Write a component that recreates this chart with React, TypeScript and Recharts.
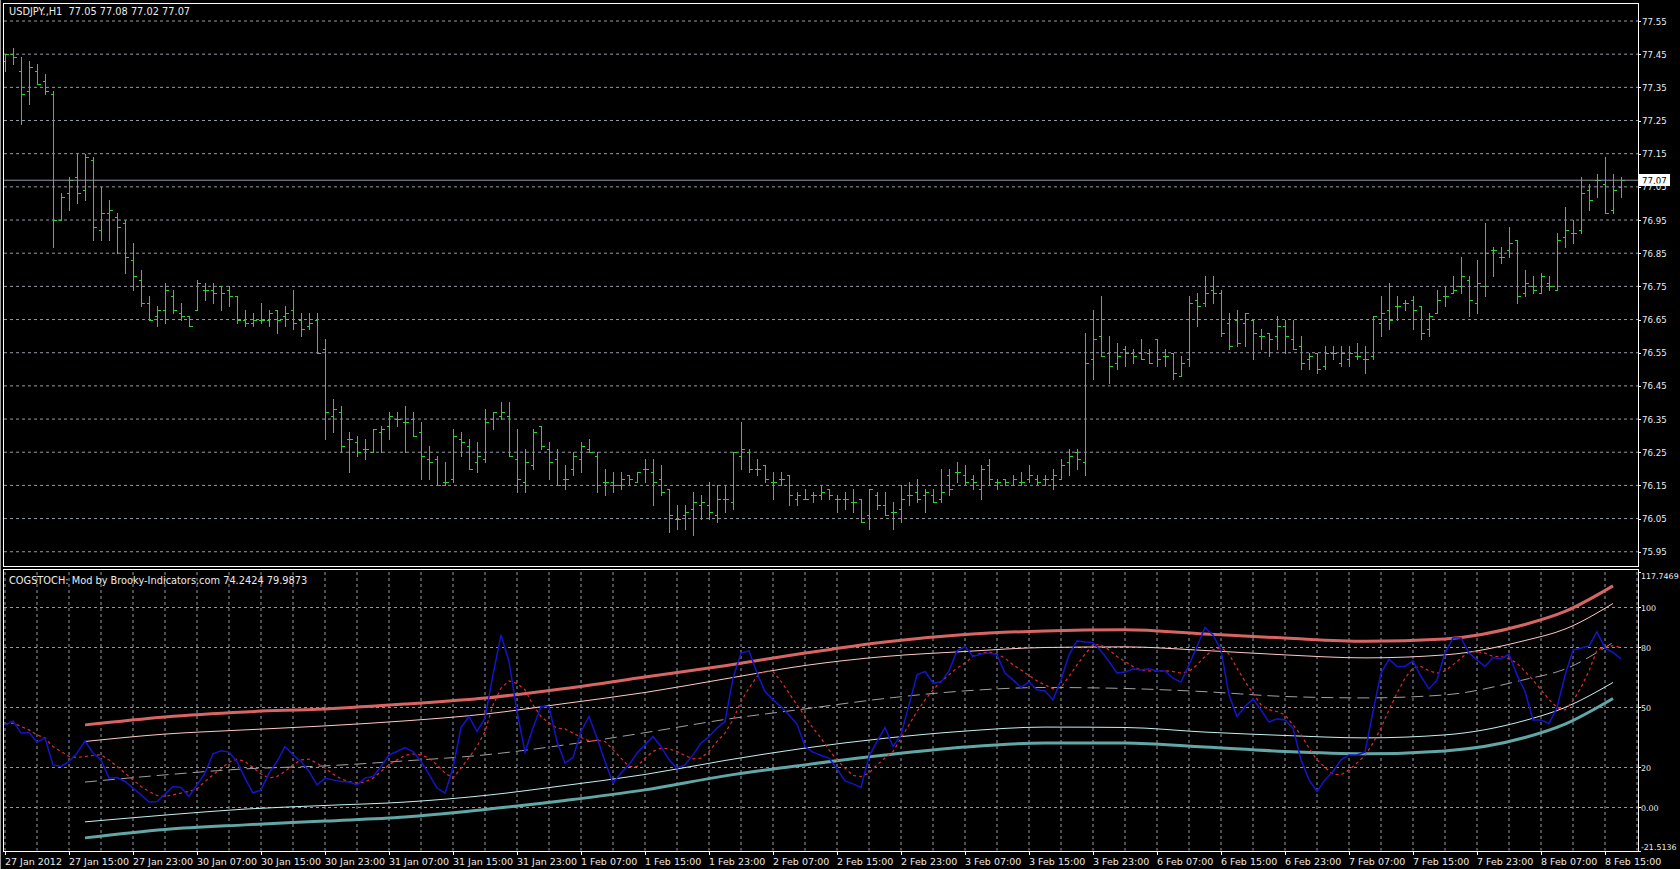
import { ComposedChart, Bar, Line, XAxis, YAxis, CartesianGrid, ReferenceLine } from 'recharts';

// USDJPY H1, bar 0 = 27 Jan 2012 07:00
const opens = [
  77.43, 77.45, 77.40, 77.34, 77.40, 77.37, 77.33, 76.95, 77.03, 77.08,
  77.04, 77.13, 76.92, 76.97, 76.96, 76.94, 76.83, 76.77, 76.70, 76.66,
  76.68, 76.72, 76.67, 76.66, 76.68, 76.74, 76.74, 76.75, 76.74, 76.72,
  76.65, 76.64, 76.65, 76.65, 76.68, 76.66, 76.68, 76.65, 76.63, 76.65,
  76.56, 76.36, 76.37, 76.29, 76.28, 76.26, 76.25, 76.31, 76.33, 76.35,
  76.34, 76.35, 76.31, 76.23, 76.23, 76.16, 76.17, 76.29, 76.27, 76.22,
  76.23, 76.35, 76.36, 76.36, 76.23, 76.16, 76.21, 76.33, 76.26, 76.23,
  76.17, 76.20, 76.23, 76.26, 76.24, 76.16, 76.16, 76.15, 76.18, 76.16,
  76.20, 76.19, 76.17, 76.14, 76.05, 76.06, 76.08, 76.09, 76.09, 76.06,
  76.11, 76.10, 76.24, 76.25, 76.20, 76.21, 76.16, 76.17, 76.18, 76.11,
  76.11, 76.12, 76.12, 76.14, 76.11, 76.11, 76.10, 76.11, 76.06, 76.12,
  76.09, 76.07, 76.08, 76.12, 76.13, 76.12, 76.12, 76.11, 76.18, 76.19,
  76.18, 76.17, 76.14, 76.21, 76.16, 76.17, 76.15, 76.16, 76.17, 76.17,
  76.17, 76.17, 76.17, 76.22, 76.25, 76.22, 76.53, 76.60, 76.55, 76.52,
  76.56, 76.55, 76.55, 76.55, 76.59, 76.54, 76.55, 76.48, 76.53, 76.71,
  76.70, 76.74, 76.73, 76.64, 76.65, 76.64, 76.65, 76.60, 76.61, 76.60,
  76.63, 76.59, 76.57, 76.53, 76.55, 76.51, 76.55, 76.52, 76.53, 76.54,
  76.53, 76.54, 76.64, 76.68, 76.69, 76.70, 76.71, 76.69, 76.62, 76.67,
  76.72, 76.73, 76.75, 76.77, 76.70, 76.75, 76.86, 76.84, 76.86, 76.89,
  76.73, 76.75, 76.73, 76.76, 76.74, 76.90, 76.91, 76.92, 77.04, 77.07,
  77.06, 76.98, 77.05,
];
const highs = [
  77.45, 77.47, 77.44, 77.43, 77.42, 77.39, 77.34, 77.03, 77.08, 77.15,
  77.15, 77.14, 77.05, 77.01, 76.97, 76.95, 76.88, 76.80, 76.72, 76.69,
  76.76, 76.74, 76.70, 76.66, 76.77, 76.76, 76.76, 76.75, 76.75, 76.72,
  76.68, 76.67, 76.70, 76.68, 76.68, 76.69, 76.74, 76.67, 76.67, 76.67,
  76.59, 76.41, 76.39, 76.31, 76.30, 76.29, 76.32, 76.33, 76.37, 76.37,
  76.39, 76.37, 76.34, 76.27, 76.24, 76.22, 76.32, 76.31, 76.29, 76.28,
  76.38, 76.37, 76.40, 76.40, 76.32, 76.26, 76.32, 76.33, 76.28, 76.26,
  76.21, 76.25, 76.28, 76.29, 76.25, 76.20, 76.19, 76.19, 76.18, 76.19,
  76.23, 76.23, 76.21, 76.14, 76.09, 76.09, 76.13, 76.12, 76.16, 76.15,
  76.15, 76.25, 76.34, 76.26, 76.23, 76.21, 76.19, 76.19, 76.18, 76.13,
  76.14, 76.13, 76.15, 76.14, 76.12, 76.13, 76.14, 76.11, 76.14, 76.13,
  76.13, 76.10, 76.15, 76.16, 76.17, 76.14, 76.14, 76.20, 76.20, 76.22,
  76.21, 76.18, 76.21, 76.23, 76.17, 76.17, 76.18, 76.19, 76.21, 76.18,
  76.18, 76.20, 76.23, 76.26, 76.26, 76.61, 76.68, 76.72, 76.60, 76.58,
  76.57, 76.56, 76.59, 76.56, 76.59, 76.56, 76.55, 76.54, 76.72, 76.73,
  76.78, 76.78, 76.74, 76.67, 76.68, 76.67, 76.65, 76.62, 76.61, 76.66,
  76.65, 76.65, 76.60, 76.55, 76.55, 76.57, 76.57, 76.57, 76.57, 76.58,
  76.57, 76.66, 76.72, 76.76, 76.72, 76.71, 76.72, 76.69, 76.67, 76.74,
  76.75, 76.78, 76.84, 76.78, 76.83, 76.94, 76.87, 76.87, 76.93, 76.89,
  76.80, 76.78, 76.79, 76.78, 76.91, 76.99, 76.95, 77.08, 77.06, 77.09,
  77.14, 77.09, 77.08,
];
const lows = [
  77.40, 77.42, 77.24, 77.30, 77.36, 77.33, 76.87, 76.95, 76.98, 77.00,
  77.01, 76.89, 76.89, 76.89, 76.85, 76.79, 76.74, 76.69, 76.65, 76.63,
  76.64, 76.67, 76.65, 76.63, 76.68, 76.71, 76.70, 76.68, 76.69, 76.64,
  76.63, 76.63, 76.64, 76.63, 76.61, 76.63, 76.62, 76.60, 76.62, 76.55,
  76.29, 76.31, 76.25, 76.19, 76.24, 76.23, 76.25, 76.25, 76.29, 76.33,
  76.25, 76.30, 76.17, 76.17, 76.15, 76.15, 76.16, 76.24, 76.20, 76.19,
  76.22, 76.32, 76.35, 76.24, 76.13, 76.13, 76.20, 76.26, 76.17, 76.15,
  76.14, 76.18, 76.19, 76.25, 76.13, 76.12, 76.13, 76.14, 76.15, 76.16,
  76.16, 76.09, 76.12, 76.01, 76.02, 76.02, 76.00, 76.05, 76.05, 76.04,
  76.07, 76.08, 76.20, 76.19, 76.18, 76.16, 76.11, 76.15, 76.09, 76.09,
  76.11, 76.10, 76.11, 76.11, 76.07, 76.08, 76.07, 76.04, 76.02, 76.08,
  76.06, 76.02, 76.04, 76.09, 76.10, 76.07, 76.10, 76.10, 76.12, 76.16,
  76.15, 76.14, 76.11, 76.15, 76.14, 76.15, 76.15, 76.15, 76.16, 76.15,
  76.15, 76.14, 76.17, 76.18, 76.20, 76.18, 76.47, 76.54, 76.46, 76.50,
  76.51, 76.52, 76.53, 76.52, 76.51, 76.51, 76.47, 76.48, 76.51, 76.63,
  76.69, 76.70, 76.60, 76.56, 76.57, 76.57, 76.53, 76.56, 76.54, 76.56,
  76.55, 76.56, 76.50, 76.50, 76.49, 76.50, 76.53, 76.51, 76.51, 76.53,
  76.49, 76.53, 76.60, 76.62, 76.65, 76.68, 76.62, 76.59, 76.60, 76.67,
  76.69, 76.73, 76.73, 76.66, 76.67, 76.72, 76.78, 76.82, 76.84, 76.70,
  76.72, 76.73, 76.73, 76.74, 76.74, 76.87, 76.88, 76.91, 76.98, 77.02,
  76.97, 76.97, 77.02,
];
const closes = [
  77.45, 77.44, 77.33, 77.41, 77.36, 77.34, 76.95, 77.02, 77.07, 77.03,
  77.14, 76.93, 76.97, 76.98, 76.93, 76.84, 76.78, 76.70, 76.65, 76.68,
  76.74, 76.68, 76.66, 76.63, 76.76, 76.74, 76.73, 76.73, 76.72, 76.65,
  76.64, 76.65, 76.65, 76.67, 76.65, 76.67, 76.64, 76.62, 76.64, 76.55,
  76.37, 76.38, 76.27, 76.29, 76.25, 76.26, 76.32, 76.32, 76.36, 76.35,
  76.34, 76.30, 76.24, 76.22, 76.15, 76.16, 76.30, 76.28, 76.20, 76.24,
  76.34, 76.37, 76.37, 76.24, 76.17, 76.22, 76.31, 76.27, 76.22, 76.15,
  76.17, 76.24, 76.27, 76.25, 76.15, 76.16, 76.15, 76.17, 76.17, 76.19,
  76.20, 76.16, 76.13, 76.06, 76.05, 76.07, 76.10, 76.10, 76.07, 76.11,
  76.11, 76.25, 76.26, 76.20, 76.20, 76.17, 76.16, 76.17, 76.12, 76.12,
  76.11, 76.12, 76.13, 76.12, 76.11, 76.11, 76.10, 76.04, 76.14, 76.09,
  76.06, 76.07, 76.11, 76.12, 76.11, 76.13, 76.10, 76.13, 76.14, 76.19,
  76.16, 76.16, 76.20, 76.17, 76.16, 76.16, 76.17, 76.16, 76.18, 76.16,
  76.17, 76.18, 76.21, 76.24, 76.23, 76.52, 76.59, 76.54, 76.51, 76.54,
  76.55, 76.54, 76.53, 76.52, 76.53, 76.54, 76.49, 76.52, 76.70, 76.69,
  76.73, 76.73, 76.61, 76.57, 76.58, 76.67, 76.61, 76.60, 76.59, 76.63,
  76.60, 76.56, 76.52, 76.54, 76.50, 76.55, 76.55, 76.55, 76.55, 76.54,
  76.53, 76.66, 76.67, 76.65, 76.69, 76.70, 76.68, 76.61, 76.66, 76.71,
  76.72, 76.74, 76.78, 76.71, 76.76, 76.85, 76.86, 76.84, 76.88, 76.72,
  76.76, 76.74, 76.78, 76.75, 76.89, 76.92, 76.91, 77.03, 77.01, 77.07,
  76.97, 77.04, 77.07,
];

// COGSTOCH main (blue) and signal (red dotted)
const stoch = [
  41.3, 43.3, 37.2, 37.5, 32.7, 34.7, 21.3, 20.5, 23, 27.2,
  33.3, 27.2, 23.8, 14.7, 15, 13, 9.7, 6.3, 2.7, 3,
  6.7, 10.5, 10, 5.5, 11.3, 17.2, 26.8, 28.3, 27.7, 23,
  14.7, 7.2, 8.8, 17.2, 23, 30.5, 26.3, 23, 18, 11.3,
  14.7, 13.8, 13, 12.7, 11.3, 14.7, 15.5, 20.5, 26.3, 28,
  30, 28, 23, 16.7, 9.7, 7.2, 19.7, 40, 45.5, 38,
  44.7, 66.3, 86.3, 73, 48, 27.7, 39.7, 50.5, 50.5, 33,
  22.2, 25, 38, 45.5, 34.7, 23, 12.2, 17.2, 21.3, 27.2,
  31.3, 35.5, 30.5, 23.8, 19.7, 21.3, 26.3, 32.2, 35.5, 39.7,
  43, 64.7, 77.2, 78.3, 67.2, 58, 53.8, 50.5, 46.3, 41.7,
  30.5, 27.7, 26, 24.7, 19.3, 13.3, 11.8, 10, 25.5, 33,
  40, 30.5, 36.3, 51.3, 66.3, 68, 62.2, 62.7, 68.3, 78.3,
  80.5, 75.5, 76.7, 77.2, 76.3, 67.2, 63.8, 60, 62.7, 58.8,
  58.3, 53.8, 63.8, 76.3, 83.3, 82.7, 82.5, 78.3, 73, 67.2,
  67.7, 69.3, 68.8, 69.3, 68.3, 68.3, 64.7, 62.7, 71.3, 80.5,
  90, 86.3, 78.8, 56.3, 45.5, 50.5, 54.3, 48.8, 42.7, 44.3,
  43.8, 39.7, 23.8, 13.8, 8, 13.8, 18, 23.8, 26.3, 26.3,
  27.7, 48, 67.2, 74.2, 70.5, 70.5, 73.3, 65.5, 59.3, 63.8,
  77.2, 84.7, 84.7, 77.2, 73.8, 70.5, 75, 74.3, 76.7, 66.3,
  58, 43.8, 43.8, 42, 50, 66, 78.7, 79.7, 80.8, 87.8,
  79.7, 77.5, 74.2424,
];
const signal = [
  41.7, 42.2, 40.5, 38.8, 36.3, 34.7, 30.5, 28, 25.5, 25,
  25.5, 26, 26.3, 23.8, 20.5, 17.2, 13.8, 10.5, 8, 6,
  5.5, 6.3, 7.2, 8, 9.3, 13, 16.3, 19.3, 22.7, 24.2,
  23, 20, 16.7, 14.7, 15.5, 18, 21.3, 23.8, 24.2, 22.2,
  19.7, 16.7, 14.3, 13, 12.2, 12.7, 14.7, 18, 21.3, 23.8,
  26, 26.8, 26.3, 24.7, 21.3, 17.2, 14.7, 19.7, 25, 30.5,
  38, 51.3, 59.7, 63.3, 62, 58.8, 51.3, 45.5, 42.2, 39.7,
  39.3, 37.2, 35, 33.3, 33.5, 33, 28.8, 24.7, 20.5, 20.5,
  24.7, 28, 29.7, 29.3, 28, 26, 24.3, 24.7, 28, 33,
  37.2, 43.8, 53, 59.7, 65.5, 68.3, 68, 63, 57.2, 51.3,
  45.5, 39.7, 34.7, 28.8, 23.8, 19.7, 16, 15.5, 17.2, 21.3,
  24.7, 28, 34.7, 41.3, 48, 53.8, 58.8, 63, 66.3, 69.7,
  72.2, 75.5, 77.2, 77.7, 76.7, 74.7, 71.3, 68.8, 66, 63.3,
  61.3, 59.3, 60, 65.5, 71.3, 76.7, 81.3, 81.3, 78.8, 75.5,
  73, 70.5, 68.8, 68.3, 68.3, 68.3, 68, 67.2, 68, 71.3,
  75.5, 78.8, 80, 76.7, 69.7, 63, 57.2, 51.3, 48.8, 48,
  46.3, 41.3, 36.3, 29.7, 23.8, 20, 16.7, 16.3, 18.8, 22.2,
  26, 32.2, 39.7, 48.8, 57.2, 64.7, 69.7, 70.5, 68.3, 67.2,
  68.3, 71.3, 74.7, 77.7, 78, 77.2, 75.5, 75.5, 74.3, 72.2,
  68, 63.8, 58.8, 54, 50, 48.7, 53.3, 60, 68.3, 78.7,
  80.3, 80.8, 79.9873,
];

// band lines, read at these bar indexes
const bandAt = [10, 20, 30, 40, 50, 60, 70, 80, 90, 100, 110, 120, 130, 140, 150, 160, 170, 180, 190, 195, 201];
const upperOuter = [41.3, 45.3, 47.8, 49.3, 51.7, 54.7, 59.5, 65.2, 70.9, 77.2, 82.8, 86.5, 88.3, 88.9, 86.8, 84.7, 83.1, 84.3, 91.5, 98, 110.8];
const upperInner = [33, 36.7, 38.8, 40.8, 43.3, 46.7, 52, 57.5, 64.3, 71, 75.5, 78, 80, 80.3, 78.5, 76.3, 74.8, 76.3, 83.5, 89.2, 102];
const middle = [12.7, 16.3, 19.3, 20.8, 23.3, 26.3, 31.3, 37.4, 44, 49.3, 54.5, 58.3, 60, 59.5, 57.9, 55.5, 54.8, 56.3, 64, 69.2, 82.5];
const lowerInner = [-7.2, -3.8, -0.8, 1, 2.7, 6, 11, 16.5, 23.5, 29.7, 34.6, 38.2, 40.2, 40, 37.7, 36, 34.8, 36.3, 43.5, 50, 62.5];
const lowerOuter = [-15.2, -11, -8.7, -6.8, -4.8, -1, 3.5, 8.8, 15.8, 21.3, 26.2, 30.2, 32.3, 32.2, 30.2, 28, 26.9, 28.3, 35, 41.7, 54.5];

const timeTicks = [0, 8, 16, 24, 32, 40, 48, 56, 64, 72, 80, 88, 96, 104, 112, 120, 128, 136, 144, 152, 160, 168, 176, 184, 192, 200];
const timeLabels = [
  '27 Jan 2012', '27 Jan 15:00', '27 Jan 23:00', '30 Jan 07:00', '30 Jan 15:00', '30 Jan 23:00',
  '31 Jan 07:00', '31 Jan 15:00', '31 Jan 23:00', '1 Feb 07:00', '1 Feb 15:00', '1 Feb 23:00',
  '2 Feb 07:00', '2 Feb 15:00', '2 Feb 23:00', '3 Feb 07:00', '3 Feb 15:00', '3 Feb 23:00',
  '6 Feb 07:00', '6 Feb 15:00', '6 Feb 23:00', '7 Feb 07:00', '7 Feb 15:00', '7 Feb 23:00',
  '8 Feb 07:00', '8 Feb 15:00',
];
const gridX = timeTicks.flatMap((t) => [t, t + 4]).filter((t) => t <= 204);
const priceTicks = [75.95, 76.05, 76.15, 76.25, 76.35, 76.45, 76.55, 76.65, 76.75, 76.85, 76.95, 77.05, 77.15, 77.25, 77.35, 77.45, 77.55];
const indTicks = [-21.5136, 0, 20, 50, 80, 100, 117.7469];
const indLabels = ['-21.5136', '0.00', '20', '50', '80', '100', '117.7469'];
const indGrid = [0, 20, 50, 80, 100];

const rows: any[] = opens.map((o, i) => ({
  i, o, h: highs[i], l: lows[i], c: closes[i],
  hl: [lows[i], highs[i]],
  stoch: stoch[i], signal: signal[i],
}));
bandAt.forEach((b, k) => {
  Object.assign(rows[b], {
    upOuter: upperOuter[k], upInner: upperInner[k], mid: middle[k],
    loInner: lowerInner[k], loOuter: lowerOuter[k],
  });
});

const FONT = "'DejaVu Sans', Tahoma, sans-serif";
const GRID = '#959ba3';
const TXT = '#ececec';
const X_DOMAIN = [-0.125, 204.125];
const lastClose = closes[closes.length - 1];

const OhlcBar = (props: any) => {
  const { x, y, width, height, payload } = props;
  if (x == null || !payload) return null;
  const top = Math.min(y, y + height);
  const span = Math.abs(height);
  const { h, l, o, c } = payload;
  const px = (v: number) => (h === l ? top : top + ((h - v) / (h - l)) * span);
  const cx = Math.round(x + width / 2) + 0.5;
  const yo = Math.round(px(o)) + 0.5;
  const yc = Math.round(px(c)) + 0.5;
  return (
    <g stroke="#30d030" strokeWidth={1} shapeRendering="crispEdges">
      <line x1={cx} x2={cx} y1={Math.round(top)} y2={Math.round(top + span) + 1} />
      <line x1={cx - 3} x2={cx} y1={yo} y2={yo} />
      <line x1={cx} x2={cx + 3} y1={yc} y2={yc} />
    </g>
  );
};

const PriceTick = (props: any) => {
  const { x, y, payload } = props;
  return (
    <g>
      <line x1={x} x2={x + 3} y1={y + 0.5} y2={y + 0.5} stroke="#fff" shapeRendering="crispEdges" />
      <text x={x + 4} y={y + 3.5} fill={TXT} fontSize={8.6} fontFamily={FONT}>{payload.value.toFixed(2)}</text>
    </g>
  );
};

const IndTick = (props: any) => {
  const { x, y, payload } = props;
  const k = indTicks.indexOf(payload.value);
  const dy = k === indTicks.length - 1 ? 7 : k === 0 ? -1 : 3.5;
  return (
    <g>
      <line x1={x} x2={x + 3} y1={y + 0.5} y2={y + 0.5} stroke="#fff" shapeRendering="crispEdges" />
      <text x={x + 3} y={y + dy} fill={TXT} fontSize={7.9} fontFamily={FONT}>{indLabels[k]}</text>
    </g>
  );
};

const TimeTick = (props: any) => {
  const { x, y, payload } = props;
  const k = timeTicks.indexOf(payload.value);
  return (
    <g>
      <line x1={x + 0.5} x2={x + 0.5} y1={y + 1} y2={y + 4} stroke="#fff" shapeRendering="crispEdges" />
      <text x={x} y={y + 14} fill={TXT} fontSize={9.5} fontFamily={FONT}>{timeLabels[k]}</text>
    </g>
  );
};

const BidLabel = (props: any) => {
  const { viewBox } = props;
  if (!viewBox) return null;
  const x = viewBox.x + viewBox.width;
  const y = Math.round(viewBox.y);
  return (
    <g>
      <rect x={x + 1} y={y - 6} width={31} height={12} fill="#fff" />
      <text x={x + 4} y={y + 3.5} fill="#000" fontSize={8.6} fontFamily={FONT}>{lastClose.toFixed(2)}</text>
    </g>
  );
};

const frame = (top: number, height: number): any => ({
  position: 'absolute', left: 3, top, width: 1636, height,
  border: '1px solid #fff', boxSizing: 'border-box', pointerEvents: 'none',
});

const titleStyle = (top: number): any => ({
  position: 'absolute', left: 9, top, color: TXT, fontFamily: FONT, fontSize: 9.8,
  lineHeight: '12px', whiteSpace: 'pre', pointerEvents: 'none',
});

export default function App() {
  return (
    <div style={{ position: 'absolute', left: 0, top: 0, width: 1680, height: 869, background: '#000', overflow: 'hidden' }}>
      <div style={{ position: 'absolute', left: 0, top: 0, width: 1, height: 869, background: '#9a9a9a' }} />

      <div style={{ position: 'absolute', left: 0, top: 0 }}>
        <ComposedChart width={1680} height={569} data={rows} margin={{ top: 3, right: 0, bottom: 3, left: 4 }}>
          <CartesianGrid stroke={GRID} strokeDasharray="3 3" verticalValues={gridX} horizontalValues={priceTicks} />
          <XAxis dataKey="i" type="number" domain={X_DOMAIN} ticks={gridX} height={0} tick={false} axisLine={false} tickLine={false} allowDataOverflow />
          <YAxis orientation="right" width={42} domain={[75.907, 77.6043]} ticks={priceTicks} interval={0}
            allowDataOverflow axisLine={false} tickLine={false} tickSize={0} tickMargin={0} tick={<PriceTick />} />
          <ReferenceLine y={lastClose} stroke="#8c98a6" strokeWidth={1} label={<BidLabel />} />
          <Bar dataKey="hl" barSize={6} shape={<OhlcBar />} isAnimationActive={false} />
        </ComposedChart>
      </div>

      <div style={{ position: 'absolute', left: 0, top: 567 }}>
        <ComposedChart width={1680} height={302} data={rows} margin={{ top: 5, right: 0, bottom: 0, left: 4 }}>
          <CartesianGrid stroke={GRID} strokeDasharray="3 3" verticalValues={gridX} horizontalValues={indGrid} />
          <XAxis dataKey="i" type="number" domain={X_DOMAIN} ticks={timeTicks} interval={0} height={18.5}
            allowDataOverflow axisLine={false} tickLine={false} tickSize={0} tickMargin={0} tick={<TimeTick />} />
          <YAxis orientation="right" width={42} domain={[-21.5136, 117.7469]} ticks={indTicks} interval={0}
            allowDataOverflow axisLine={false} tickLine={false} tickSize={0} tickMargin={0} tick={<IndTick />} />
          <Line dataKey="upOuter" type="monotone" connectNulls stroke="#d86464" strokeWidth={3} dot={false} isAnimationActive={false} />
          <Line dataKey="upInner" type="monotone" connectNulls stroke="#ffc8c8" strokeWidth={1} dot={false} isAnimationActive={false} />
          <Line dataKey="mid" type="monotone" connectNulls stroke="#a0a0a0" strokeWidth={1} strokeDasharray="12 6" dot={false} isAnimationActive={false} />
          <Line dataKey="loInner" type="monotone" connectNulls stroke="#c4f0f0" strokeWidth={1} dot={false} isAnimationActive={false} />
          <Line dataKey="loOuter" type="monotone" connectNulls stroke="#62a6a6" strokeWidth={3} dot={false} isAnimationActive={false} />
          <Line dataKey="signal" type="linear" stroke="#e42a2a" strokeWidth={1.2} strokeDasharray="3 3" dot={false} isAnimationActive={false} />
          <Line dataKey="stoch" type="linear" stroke="#1414cc" strokeWidth={1.5} dot={false} isAnimationActive={false} />
        </ComposedChart>
      </div>

      <div style={frame(3, 564)} />
      <div style={frame(569, 283)} />
      <div style={titleStyle(6)}>{'USDJPY.,H1  77.05 77.08 77.02 77.07'}</div>
      <div style={titleStyle(575)}>{`COGSTOCH: Mod by Brooky-Indicators.com ${stoch[stoch.length - 1]} ${signal[signal.length - 1]}`}</div>
    </div>
  );
}
